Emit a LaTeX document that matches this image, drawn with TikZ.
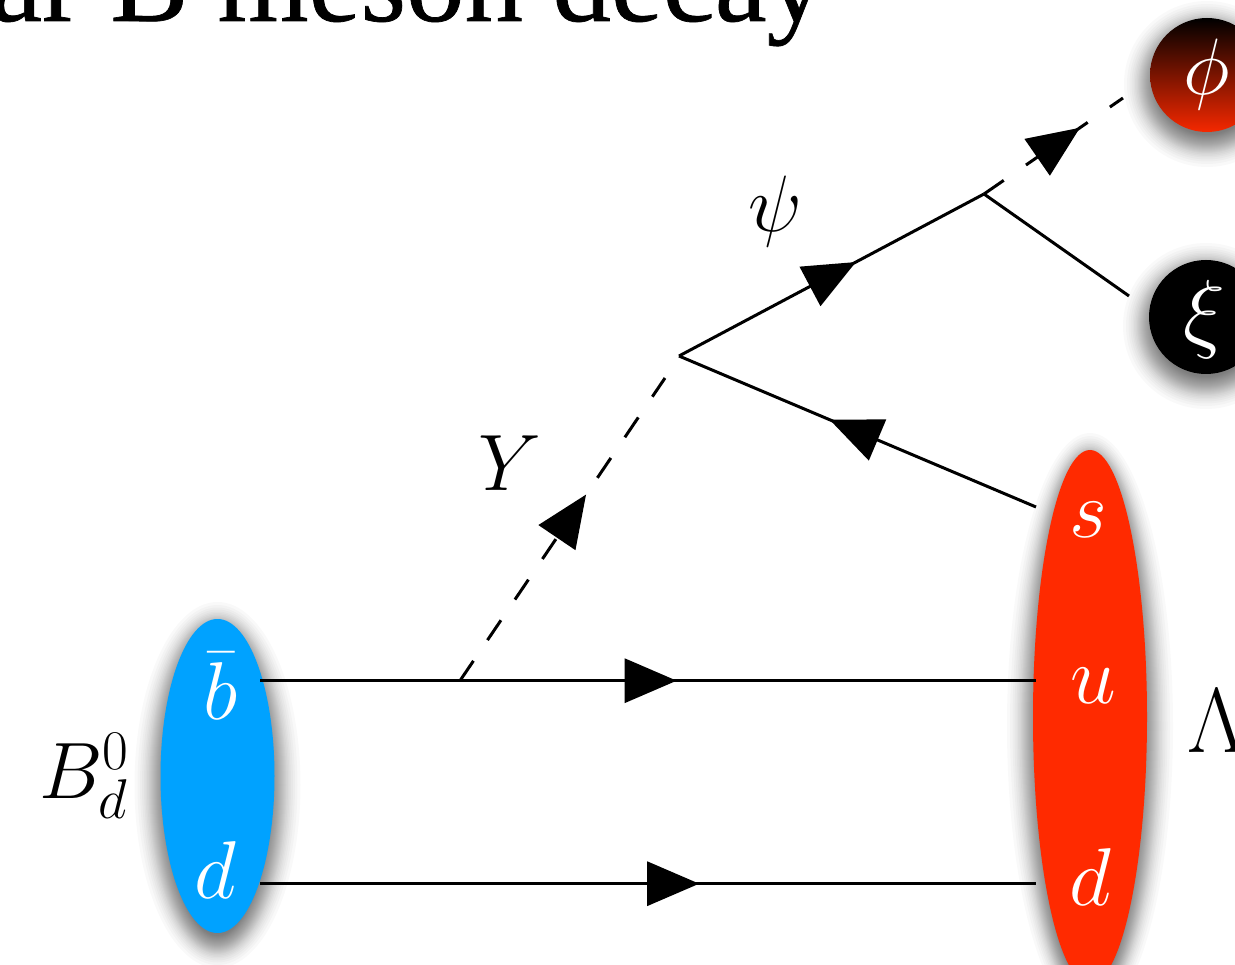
\documentclass[tikz,border=0pt]{standalone}
\usepackage{fix-cm}
\usepackage{fontspec}
\usetikzlibrary{arrows.meta,decorations.markings,shapes.geometric}
\newfontfamily\titlefont[FakeBold=0.6]{Liberation Serif}
\definecolor{mesonblue}{RGB}{0,162,255}
\definecolor{baryonred}{RGB}{255,42,0}
\definecolor{phired}{RGB}{245,40,0}
\newcommand{\bigmath}{\fontsize{80}{80}\selectfont}
\newcommand{\quarkmath}{\fontsize{82}{82}\selectfont}
% Soft shadow as a stack of thin ellipses
\newcommand{\softshadow}[4]{%
  \foreach \d in {26,23,20.5,18.5,16.5,15,13.5,12,11,10,9,8,7,6,5,4,3,2,1,0,-1,-2,-3,-4,-5,-6,-8,-10,-12} {
    \fill[black, fill opacity=0.022] (#1,#2+9) ellipse [x radius=#3+\d, y radius=#4+\d];
  }}
\tikzset{
  hadron/.style={ellipse, inner sep=0pt, minimum width=114pt, text=white},
  line/.style={line width=3pt},
  dashline/.style={line width=3pt, dash pattern=on 24pt off 25pt},
  midtip/.style={postaction={decorate}, decoration={markings,
    mark=at position #1 with {\arrow{Triangle[length=52pt,width=44pt]}}}},
  lab/.style={font=\bigmath, inner sep=0pt},
  quarklab/.style={font=\quarkmath, inner sep=0pt, text=white}
}
\begin{document}
\begin{tikzpicture}[x=1pt, y=-1pt]
\path[use as bounding box, clip] (0,0) rectangle (1235,965);
\fill[white] (0,0) rectangle (1235,965);
% Title, cut by the top edge
\node[anchor=base west, inner sep=0pt, font=\titlefont\fontsize{117}{117}\selectfont] (title) at (-10,21) {ar B meson decay};
% Shadows
\softshadow{217.5}{776}{57}{157}
\softshadow{1090}{717}{57}{267}
\softshadow{1207}{75}{57}{57}
\softshadow{1206}{317}{57}{57}
% Hadrons
\node[hadron, fill=mesonblue, minimum height=314pt] (bmeson) at (217.5,776) {};
\node[hadron, fill=baryonred, minimum height=534pt] (lambda) at (1090,717) {};
\node[hadron, minimum height=114pt, top color=black, bottom color=phired] (phi) at (1207,75) {};
\node[hadron, fill=black, minimum height=114pt] (xi) at (1206,317) {};
% Line ends and vertices
\coordinate (bbarL) at (260,680.7);
\coordinate (uR) at (1036,680.7);
\coordinate (dL) at (260,883.7);
\coordinate (dR) at (1036,883.7);
\coordinate (vtxY) at (460,680.7);
\coordinate (endY) at (665,378);
\coordinate (vtxA) at (679,356);
\coordinate (sR) at (1036,507);
\coordinate (vtxB) at (984,194);
\coordinate (endphi) at (1123,98);
\coordinate (endxi) at (1129,296);
% Lines
\draw[line, midtip=0.537] (bbarL) -- (uR);
\draw[line, midtip=0.566] (dL) -- (dR);
\draw[dashline, midtip=0.615] (vtxY) -- (endY);
\draw[line, midtip=0.58] (vtxA) -- (vtxB);
\draw[line, midtip=0.578] (sR) -- (vtxA);
\draw[dashline, dash pattern=on 24pt off 27pt, midtip=0.69] (vtxB) -- (endphi);
\draw[line] (vtxB) -- (endxi);
% Labels
\node[lab] (psilab) at (775,212) {$\psi$};
\node[lab] (ylab) at (510,463) {$Y$};
\node[lab] (blab) at (84,776) {$B_d^0$};
\node[lab, font=\fontsize{92}{92}\selectfont, anchor=base west] (lamlab) at (1187,752) {$\Lambda$};
\node[quarklab] (bbarlab) at (221,686) {$\bar{b}$};
\node[quarklab] (dlab) at (215,870) {$d$};
\node[quarklab] (slab) at (1088,520) {$s$};
\node[quarklab] (ulab) at (1093,686) {$u$};
\node[quarklab] (dlabr) at (1090,877) {$d$};
\node[lab, text=white] (philab) at (1207,75) {$\phi$};
\node[lab, font=\fontsize{88}{88}\selectfont, text=white] (xilab) at (1204,320) {$\xi$};
\end{tikzpicture}
\end{document}
